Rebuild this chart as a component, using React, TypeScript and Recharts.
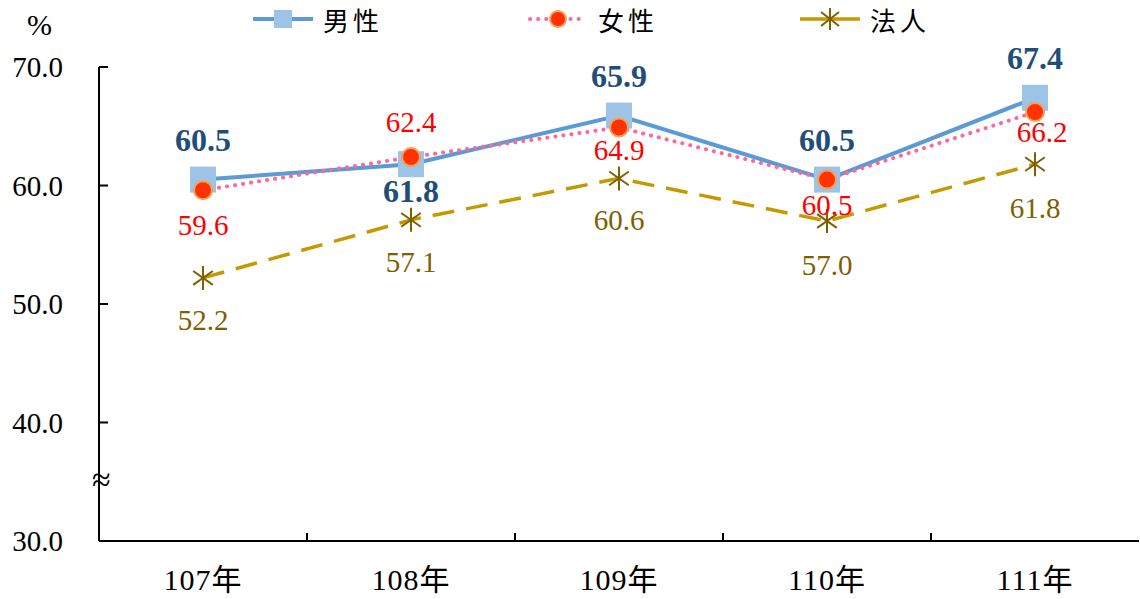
import { LineChart, Line, XAxis, YAxis, LabelList } from "recharts";

const years = ["107年", "108年", "109年", "110年", "111年"];
const male = [60.5, 61.8, 65.9, 60.5, 67.4];
const female = [59.6, 62.4, 64.9, 60.5, 66.2];
const corp = [52.2, 57.1, 60.6, 57.0, 61.8];
const yTicks = [30, 40, 50, 60, 70];

const data = years.map((year, i) => ({
  year,
  male: male[i],
  female: female[i],
  corp: corp[i],
}));

// label placement per point (offsets from the marker)
const maleDy = [-40, 27, -40, -40, -40];
const femaleDy = [35, -35, 23, 25, 20];
const femaleDx = [0, 0, 0, 0, 7];
const corpDy = [42, 42, 42, 44, 44];

const SERIF = "'Liberation Serif', 'Times New Roman', serif";
const CJK = "'Liberation Serif', 'Noto Sans CJK TC', serif";

const MALE_LINE = "#5B9BD5";
const MALE_MARK = "#9DC3E6";
const FEMALE_LINE = "#FF6699";
const FEMALE_MARK = "#FF3300";
const CORP_LINE = "#C49A00";
const CORP_MARK = "#7F6000";

const HALF_BAND = 104;

const YTick = (props: any) => {
  const { x, y, payload } = props;
  return (
    <g>
      <line x1={x} y1={y} x2={x + 9} y2={y} stroke="#000" strokeWidth={2} />
      <text
        x={x - 36}
        y={y}
        textAnchor="end"
        dominantBaseline="central"
        fontFamily={SERIF}
        fontSize={29}
        fill="#000"
      >
        {payload.value.toFixed(1)}
      </text>
    </g>
  );
};

const XTick = (props: any) => {
  const { x, y, payload, index } = props;
  return (
    <g>
      {index < years.length - 1 && (
        <line
          x1={x + HALF_BAND}
          y1={y}
          x2={x + HALF_BAND}
          y2={y - 8}
          stroke="#000"
          strokeWidth={2}
        />
      )}
      <text
        x={x}
        y={y + 38}
        textAnchor="middle"
        dominantBaseline="central"
        fontFamily={CJK}
        fontSize={30}
        letterSpacing={1}
        fill="#000"
      >
        {payload.value}
      </text>
    </g>
  );
};

const SquareDot = (p: any) => (
  <rect
    key={`sq-${p.index}`}
    x={p.cx - 13}
    y={p.cy - 13}
    width={26}
    height={26}
    fill={MALE_MARK}
  />
);

const CircleDot = (p: any) => (
  <circle
    key={`ci-${p.index}`}
    cx={p.cx}
    cy={p.cy}
    r={9}
    fill={FEMALE_MARK}
    stroke="#F4A15A"
    strokeWidth={2}
  />
);

const StarDot = (p: any) => {
  const r = 12;
  const a = (Math.PI / 180) * 35;
  const dx = r * Math.cos(a);
  const dy = r * Math.sin(a);
  return (
    <g key={`st-${p.index}`} stroke={CORP_MARK} strokeWidth={2}>
      <line x1={p.cx} y1={p.cy - r} x2={p.cx} y2={p.cy + r} />
      <line x1={p.cx - dx} y1={p.cy - dy} x2={p.cx + dx} y2={p.cy + dy} />
      <line x1={p.cx - dx} y1={p.cy + dy} x2={p.cx + dx} y2={p.cy - dy} />
    </g>
  );
};

const makeLabel =
  (dys: number[], color: string, bold: boolean, dxs?: number[]) =>
  (props: any) => {
    const { x, y, value, index } = props;
    return (
      <text
        x={x + (dxs ? dxs[index] : 0)}
        y={y + dys[index]}
        textAnchor="middle"
        dominantBaseline="central"
        fontFamily={SERIF}
        fontSize={bold ? 32 : 29}
        fontWeight={bold ? "bold" : "normal"}
        fill={color}
      >
        {Number(value).toFixed(1)}
      </text>
    );
  };

const LegendItem = ({
  left,
  label,
  icon,
}: {
  left: number;
  label: string;
  icon: any;
}) => (
  <div
    style={{
      position: "absolute",
      left,
      top: 4,
      display: "flex",
      alignItems: "center",
      height: 30,
    }}
  >
    <svg width={60} height={30}>
      {icon}
    </svg>
    <span
      style={{
        fontFamily: CJK,
        fontSize: 26,
        marginLeft: 10,
        letterSpacing: 4,
        color: "#000",
      }}
    >
      {label}
    </span>
  </div>
);

export default function App() {
  return (
    <div
      style={{
        position: "absolute",
        left: 0,
        top: 0,
        width: 1140,
        height: 599,
        background: "#fff",
      }}
    >
      <LineChart
        width={1140}
        height={599}
        data={data}
        margin={{ top: 67, right: 1, bottom: 0, left: 0 }}
      >
        <XAxis
          dataKey="year"
          height={58}
          padding={{ left: HALF_BAND, right: HALF_BAND }}
          tickSize={0}
          tickMargin={0}
          tickLine={false}
          axisLine={{ stroke: "#000", strokeWidth: 2 }}
          tick={<XTick />}
          interval={0}
        />
        <YAxis
          width={99}
          domain={[30, 70]}
          ticks={yTicks}
          tickSize={0}
          tickMargin={0}
          tickLine={false}
          axisLine={{ stroke: "#000", strokeWidth: 2 }}
          tick={<YTick />}
          interval={0}
        />
        <Line
          dataKey="corp"
          stroke={CORP_LINE}
          strokeWidth={3.5}
          strokeDasharray="22 12"
          dot={StarDot}
          activeDot={false}
          isAnimationActive={false}
        >
          <LabelList dataKey="corp" content={makeLabel(corpDy, CORP_MARK, false)} />
        </Line>
        <Line
          dataKey="male"
          stroke={MALE_LINE}
          strokeWidth={4}
          dot={SquareDot}
          activeDot={false}
          isAnimationActive={false}
        >
          <LabelList dataKey="male" content={makeLabel(maleDy, "#1F4E79", true)} />
        </Line>
        <Line
          dataKey="female"
          stroke={FEMALE_LINE}
          strokeWidth={4}
          strokeDasharray="0.1 8"
          strokeLinecap="round"
          dot={CircleDot}
          activeDot={false}
          isAnimationActive={false}
        >
          <LabelList
            dataKey="female"
            content={makeLabel(femaleDy, "#FF0000", false, femaleDx)}
          />
        </Line>
      </LineChart>

      <div
        style={{
          position: "absolute",
          left: 27,
          top: 8,
          fontFamily: SERIF,
          fontSize: 30,
        }}
      >
        %
      </div>
      <div
        style={{
          position: "absolute",
          left: 92,
          top: 461,
          fontFamily: SERIF,
          fontSize: 34,
          lineHeight: "38px",
        }}
      >
        ≈
      </div>

      <LegendItem
        left={253}
        label="男性"
        icon={
          <g>
            <line x1={0} y1={15} x2={60} y2={15} stroke={MALE_LINE} strokeWidth={4} />
            <rect x={21} y={6} width={18} height={18} fill={MALE_MARK} />
          </g>
        }
      />
      <LegendItem
        left={528}
        label="女性"
        icon={
          <g>
            <line
              x1={2}
              y1={15}
              x2={58}
              y2={15}
              stroke={FEMALE_LINE}
              strokeWidth={4}
              strokeDasharray="0.1 8"
              strokeLinecap="round"
            />
            <circle cx={30} cy={15} r={8} fill={FEMALE_MARK} stroke="#F4A15A" strokeWidth={2} />
          </g>
        }
      />
      <LegendItem
        left={800}
        label="法人"
        icon={
          <g>
            <line x1={0} y1={15} x2={60} y2={15} stroke={CORP_LINE} strokeWidth={3.5} />
            <g stroke={CORP_MARK} strokeWidth={2}>
              <line x1={30} y1={4} x2={30} y2={26} />
              <line x1={21} y1={8} x2={39} y2={22} />
              <line x1={21} y1={22} x2={39} y2={8} />
            </g>
          </g>
        }
      />
    </div>
  );
}
